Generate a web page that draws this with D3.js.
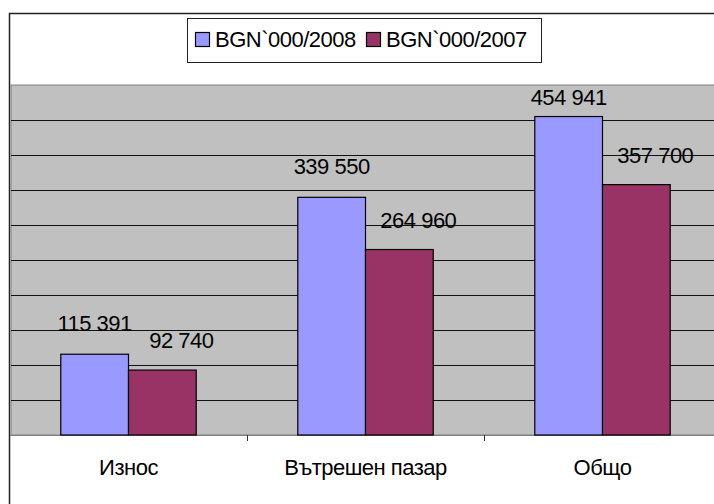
<!DOCTYPE html>
<html>
<head>
<meta charset="utf-8">
<script src="https://cdn.jsdelivr.net/npm/d3@7"></script>
<style>
  body { margin: 0; background: #fff; }
  text { font-family: "Liberation Sans", Arial, sans-serif; fill: #000; font-size: 22px; letter-spacing: -0.5px; }
</style>
</head>
<body>
<svg id="chart" width="714" height="504"></svg>
<script>
// data
let categories = ["Износ", "Вътрешен пазар", "Общо"];
let seriesNames = ["BGN`000/2008", "BGN`000/2007"];
let values2008 = [115391, 339550, 454941];
let values2007 = [92740, 264960, 357700];
let seriesColors = ["#9999ff", "#993366"];

let svg = d3.select("#chart");

let plot = {left: 10, right: 721, top: 85, bottom: 435};

let x0 = d3.scaleBand()
    .domain(categories)
    .range([plot.left, plot.right])
    .padding(0);

let x1 = d3.scaleBand()
    .domain(seriesNames)
    .range([0, x0.bandwidth()])
    .paddingInner(0)
    .paddingOuter(0.75);

let y = d3.scaleLinear()
    .domain([0, 500000])
    .range([plot.bottom, plot.top]);

// outer chart frame (cropped at right/bottom)
svg.append("path")
    .attr("d", "M9.5,504 V13.5 H714")
    .attr("fill", "none")
    .attr("stroke", "#222")
    .attr("stroke-width", 1.5);

// plot area
svg.append("rect")
    .attr("x", plot.left + 1)
    .attr("y", plot.top)
    .attr("width", plot.right - plot.left)
    .attr("height", plot.bottom - plot.top)
    .attr("fill", "#c0c0c0")
    .attr("stroke", "#808080")
    .attr("stroke-width", 1);

// gridlines
svg.append("g")
    .selectAll("line")
    .data(y.ticks(10).filter(d => d > 0 && d < 500000))
    .enter().append("line")
    .attr("x1", plot.left + 1)
    .attr("x2", plot.right)
    .attr("y1", d => Math.round(y(d)) + 0.5)
    .attr("y2", d => Math.round(y(d)) + 0.5)
    .attr("stroke", "#111")
    .attr("stroke-width", 1);

// category axis
let xAxis = svg.append("g")
    .attr("transform", "translate(0," + plot.bottom + ")");
xAxis.append("line")
    .attr("x1", plot.left)
    .attr("x2", plot.right)
    .attr("y1", 0.5).attr("y2", 0.5)
    .attr("stroke", "#808080");
xAxis.selectAll(".tick")
    .data(categories.slice(1))
    .enter().append("line")
    .attr("x1", d => Math.round(x0(d)) + 0.5)
    .attr("x2", d => Math.round(x0(d)) + 0.5)
    .attr("y1", 0).attr("y2", 6)
    .attr("stroke", "#333");
xAxis.selectAll(".lab")
    .data(categories)
    .enter().append("text")
    .attr("x", d => x0(d) + x0.bandwidth() / 2)
    .attr("y", 40)
    .attr("text-anchor", "middle")
    .text(d => d);

// bars
let rows = categories.map((c, i) => ({
  cat: c,
  vals: [
    {name: seriesNames[0], v: values2008[i], k: 0},
    {name: seriesNames[1], v: values2007[i], k: 1}
  ]
}));

let groups = svg.append("g")
    .selectAll("g")
    .data(rows)
    .enter().append("g")
    .attr("transform", d => "translate(" + x0(d.cat) + ",0)");

groups.selectAll("rect")
    .data(d => d.vals)
    .enter().append("rect")
    .attr("x", d => x1(d.name))
    .attr("y", d => y(d.v))
    .attr("width", x1.bandwidth())
    .attr("height", d => plot.bottom - y(d.v))
    .attr("fill", d => seriesColors[d.k])
    .attr("stroke", "#000")
    .attr("stroke-width", 1.2);

// value labels, "115 391" style
let fmt = v => d3.format(",")(v).replace(/,/g, " ");
let labelShift = [{dx: 0, dy: -23}, {dx: 19, dy: -22}];
groups.selectAll("text")
    .data(d => d.vals)
    .enter().append("text")
    .attr("x", d => x1(d.name) + x1.bandwidth() / 2 + labelShift[d.k].dx)
    .attr("y", d => Math.max(plot.top + 20, y(d.v) + labelShift[d.k].dy))
    .attr("text-anchor", "middle")
    .text(d => fmt(d.v));

// legend
let legend = svg.append("g");
legend.append("rect")
    .attr("x", 187.5).attr("y", 18.5)
    .attr("width", 354).attr("height", 44)
    .attr("fill", "#fff")
    .attr("stroke", "#222");

let legX = [195, 366];
seriesNames.forEach((s, i) => {
  legend.append("rect")
      .attr("x", legX[i] + 0.5).attr("y", 32.5)
      .attr("width", 14).attr("height", 14)
      .attr("fill", seriesColors[i])
      .attr("stroke", "#000")
      .attr("stroke-width", 1.2);
  legend.append("text")
      .attr("x", legX[i] + 20)
      .attr("y", 47)
      .text(s);
});
</script>
</body>
</html>
